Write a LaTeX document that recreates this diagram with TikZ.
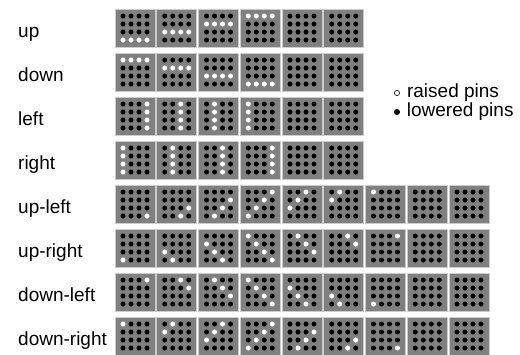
\documentclass[tikz,border=0pt]{standalone}
\usepackage{fontspec}
\setmainfont{Liberation Sans}
\usetikzlibrary{positioning,calc}

\begin{document}
\begin{tikzpicture}[
  x=1pt,y=-1pt,
  font=\fontsize{19}{22}\selectfont,
  frame/.style={draw=gray!40,fill=gray,line width=1pt,inner sep=0pt,
                minimum width=40pt,minimum height=38pt},
  rowlab/.style={anchor=base west,inner sep=0pt},
  pin/.style={circle,inner sep=0pt,minimum size=5.2pt},
]
  \useasboundingbox (0,0) rectangle (520,354);
  % one row per direction: name / frames / a / b / s / t
  % a white pin at row r, column c of frame f when a*r+b*c = s+t*f
  \foreach \name/\n/\a/\b/\s/\t [count=\i] in {
      up/6/1/0/5/-1, down/6/1/0/0/1, left/6/0/1/5/-1, right/6/0/1/0/1,
      up-left/9/1/1/9/-1, up-right/9/-1/1/-4/1,
      down-left/9/-1/1/4/-1, down-right/9/1/1/1/1}{
    \node[rowlab] (lab-\name) at (18,{37.5+(\i-1)*44}) {\name};
    \foreach \f in {1,...,\n}{
      \node[frame] (\name-\f) at ({135+(\f-1)*41.75},{28+(\i-1)*44}) {};
      \foreach \r in {1,...,4} \foreach \c in {1,...,4}{
        \pgfmathtruncatemacro\hit{((\a)*\r+(\b)*\c==(\s)+(\t)*\f) ? 1 : 0}
        \ifnum\hit=1 \def\pincol{white}\else\def\pincol{black}\fi
        \fill[\pincol] ($(\name-\f.center)+({(\c-2.5)*8},{(\r-2.5)*8})$) circle (2.5);
      }
    }
  }
  % legend
  \node[pin,draw=black,line width=0.6pt] (raised) at (397,93) {};
  \node[anchor=west,inner sep=0pt,right=7pt of raised] (raisedlab) {raised pins};
  \node[pin,fill=black,minimum size=6pt] (lowered) at (397,112) {};
  \node[anchor=west,inner sep=0pt,right=6.5pt of lowered] (loweredlab) {lowered pins};
\end{tikzpicture}
\end{document}
